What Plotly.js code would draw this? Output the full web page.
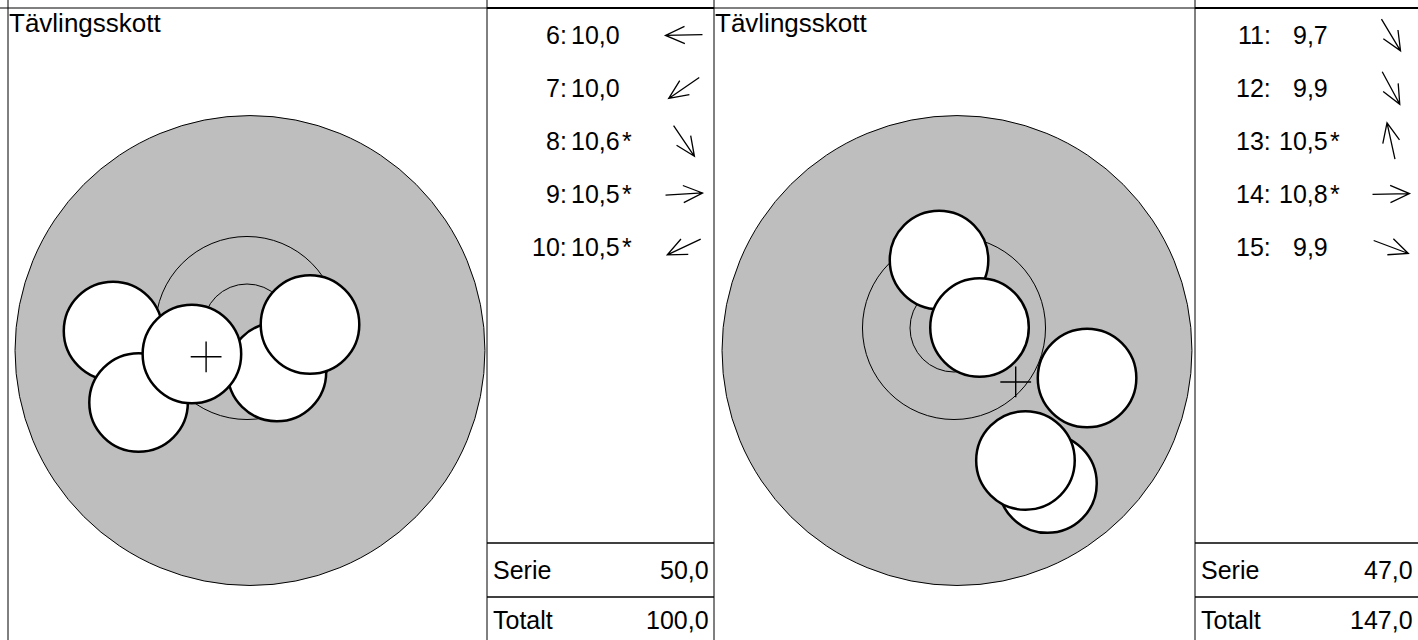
<!DOCTYPE html>
<html><head><meta charset="utf-8">
<script src="https://cdn.plot.ly/plotly-3.0.1.min.js"></script>
<style>html,body{margin:0;padding:0;background:#fff;overflow:hidden}#chart{width:1418px;height:640px}</style>
</head><body><div id="chart"></div>
<script>
// ---------------- DATA (shot centres in mm relative to target centre, y up) ----------------
const panelTitles = ["Tävlingsskott", "Tävlingsskott"];

const shotNumbersA = [6, 7, 8, 9, 10];
const shotScoresA  = [10.0, 10.0, 10.6, 10.5, 10.5];
const innerTenA    = [false, false, true, true, true];
const shotXA       = [-7.61, -6.16, 1.70, 3.58, -3.13];
const shotYA       = [-0.17, -4.23, -2.50, 0.20, -1.48];

const shotNumbersB = [11, 12, 13, 14, 15];
const shotScoresB  = [9.7, 9.9, 10.5, 10.8, 9.9];
const innerTenB    = [false, false, true, true, false];
const shotXB       = [5.31, 4.06, -0.85, 1.45, 7.56];
const shotYB       = [-8.84, -7.53, 3.86, 0.03, -2.84];

const summaryLabels = ["Serie", "Totalt"];
const serieValues   = [50.0, 47.0];
const totalValues   = [100.0, 147.0];

// target geometry (mm)
const ringRadii    = [2.5, 5.2];
const pelletRadius = 2.8;
const discRadius   = 13.35;
const discOffset   = [0.17, -1.28];

// ---------------- LAYOUT HELPERS ----------------
const W = 1418, H = 640;
const S = 17.6;                 // px per mm
const TOP = 8;                  // y of top frame line
const px = x => x / W;
const py = y => 1 - y / H;
const fmt = v => v.toFixed(1).replace('.', ',');
const FAMILY = "Liberation Sans, Arial, Helvetica, sans-serif";
const FONT = {family: FAMILY, size: 25, color: "#000"};
const TITLE_FONT = {family: FAMILY, size: 26, color: "#000"};

const panels = [
  {nums: shotNumbersA, scores: shotScoresA, star: innerTenA, xs: shotXA, ys: shotYA,
   tx0: 8, tx1: 487, cx: 247, cy: 328, sx0: 487, sx1: 714, colon: 569, val: 622, arrow: 684,
   xa: 'x', ya: 'y', xk: 'xaxis', yk: 'yaxis'},
  {nums: shotNumbersB, scores: shotScoresB, star: innerTenB, xs: shotXB, ys: shotYB,
   tx0: 714, tx1: 1195, cx: 954, cy: 328, sx0: 1195, sx1: 1418, colon: 1273, val: 1330, arrow: 1391,
   xa: 'x2', ya: 'y2', xk: 'xaxis2', yk: 'yaxis2'}
];

const rowY0 = 35, rowDY = 53;
const shapes = [], annotations = [], traces = [];
const layout = {
  width: W, height: H, margin: {l: 0, r: 0, t: 0, b: 0},
  paper_bgcolor: "#fff", plot_bgcolor: "#fff", showlegend: false,
  font: FONT
};

const frameLine = (x0, y0, x1, y1, w) => shapes.push({
  type: 'line', xref: 'paper', yref: 'paper', x0: px(x0), y0: py(y0), x1: px(x1), y1: py(y1),
  line: {color: '#000', width: w || 1}, layer: 'above'
});

// top line across everything
frameLine(0, TOP, W, TOP, 1);

panels.forEach((p, k) => {
  const axBase = {visible: false, showgrid: false, zeroline: false, fixedrange: true};
  layout[p.xk] = Object.assign({}, axBase, {
    domain: [px(p.tx0), px(p.tx1)],
    range: [(p.tx0 - p.cx) / S, (p.tx1 - p.cx) / S],
    anchor: p.ya
  });
  layout[p.yk] = Object.assign({}, axBase, {
    domain: [0, py(TOP)],
    range: [-(H - p.cy) / S, (p.cy - TOP) / S],
    anchor: p.xa
  });

  // aiming disc
  shapes.push({type: 'circle', xref: p.xa, yref: p.ya, layer: 'below',
    x0: discOffset[0] - discRadius, x1: discOffset[0] + discRadius,
    y0: discOffset[1] - discRadius, y1: discOffset[1] + discRadius,
    fillcolor: '#bebebe', line: {color: '#000', width: 1}});
  // rings
  ringRadii.forEach(r => shapes.push({type: 'circle', xref: p.xa, yref: p.ya, layer: 'below',
    x0: -r, x1: r, y0: -r, y1: r, fillcolor: 'rgba(0,0,0,0)', line: {color: '#000', width: 1}}));
  // shots
  p.xs.forEach((x, i) => shapes.push({type: 'circle', xref: p.xa, yref: p.ya, layer: 'below',
    x0: x - pelletRadius, x1: x + pelletRadius, y0: p.ys[i] - pelletRadius, y1: p.ys[i] + pelletRadius,
    fillcolor: '#fff', line: {color: '#000', width: 2.5}}));
  // mean point of impact
  const mx = p.xs.reduce((a, b) => a + b, 0) / p.xs.length;
  const my = p.ys.reduce((a, b) => a + b, 0) / p.ys.length;
  traces.push({type: 'scatter', mode: 'markers', x: [mx], y: [my], xaxis: p.xa, yaxis: p.ya,
    hoverinfo: 'skip',
    marker: {symbol: 'cross-thin', size: 22, color: '#000', line: {color: '#000', width: 1.4}}});

  // frame lines
  frameLine(p.tx0, 0, p.tx0, H, 1);
  frameLine(p.sx0, 0, p.sx0, H, 1);
  frameLine(p.sx0, TOP, p.sx1, TOP, 2);
  frameLine(p.sx0, 543, p.sx1, 543, 1.3);
  frameLine(p.sx0, 597, p.sx1, 597, 1.3);

  // title
  annotations.push({xref: 'paper', yref: 'paper', x: px(p.tx0 - 1), y: py(23), xanchor: 'left', yanchor: 'middle',
    text: panelTitles[k], showarrow: false, font: TITLE_FONT});

  // shot list
  p.nums.forEach((n, i) => {
    const yy = rowY0 + rowDY * i;
    annotations.push({xref: 'paper', yref: 'paper', x: px(p.colon), y: py(yy), xanchor: 'right', yanchor: 'middle',
      text: n + ':', showarrow: false, font: FONT});
    annotations.push({xref: 'paper', yref: 'paper', x: px(p.val), y: py(yy), xanchor: 'right', yanchor: 'middle',
      text: fmt(p.scores[i]), showarrow: false, font: FONT});
    if (p.star[i]) annotations.push({xref: 'paper', yref: 'paper', x: px(p.val - 2), y: py(yy), xanchor: 'left', yanchor: 'middle',
      text: '*', showarrow: false, font: FONT});
    // direction arrow
    const th = Math.atan2(p.ys[i], p.xs[i]);
    const ux = Math.cos(th), uy = -Math.sin(th);
    const L = 18.5, leg = 21, a = 24 * Math.PI / 180;
    const tx = p.arrow - L * ux, tyy = yy - L * uy;
    const hx = p.arrow + L * ux, hy = yy + L * uy;
    const bx = -ux, by = -uy;
    const l1x = hx + leg * (bx * Math.cos(a) - by * Math.sin(a)), l1y = hy + leg * (bx * Math.sin(a) + by * Math.cos(a));
    const l2x = hx + leg * (bx * Math.cos(-a) - by * Math.sin(-a)), l2y = hy + leg * (bx * Math.sin(-a) + by * Math.cos(-a));
    const P = (x, y) => px(x).toFixed(5) + ',' + py(y).toFixed(5);
    shapes.push({type: 'path', xref: 'paper', yref: 'paper', layer: 'above',
      path: 'M' + P(tx, tyy) + 'L' + P(hx, hy) + 'M' + P(l1x, l1y) + 'L' + P(hx, hy) + 'L' + P(l2x, l2y),
      line: {color: '#000', width: 1.3}});
  });

  // summary
  const sumVals = [serieValues[k], totalValues[k]];
  [570, 620].forEach((yy, j) => {
    annotations.push({xref: 'paper', yref: 'paper', x: px(p.sx0 + 4), y: py(yy), xanchor: 'left', yanchor: 'middle',
      text: summaryLabels[j], showarrow: false, font: FONT});
    annotations.push({xref: 'paper', yref: 'paper', x: px(p.sx1 - 3), y: py(yy), xanchor: 'right', yanchor: 'middle',
      text: fmt(sumVals[j]), showarrow: false, font: FONT});
  });
});

layout.shapes = shapes;
layout.annotations = annotations;
Plotly.newPlot('chart', traces, layout, {staticPlot: true, displayModeBar: false});
</script></body></html>
